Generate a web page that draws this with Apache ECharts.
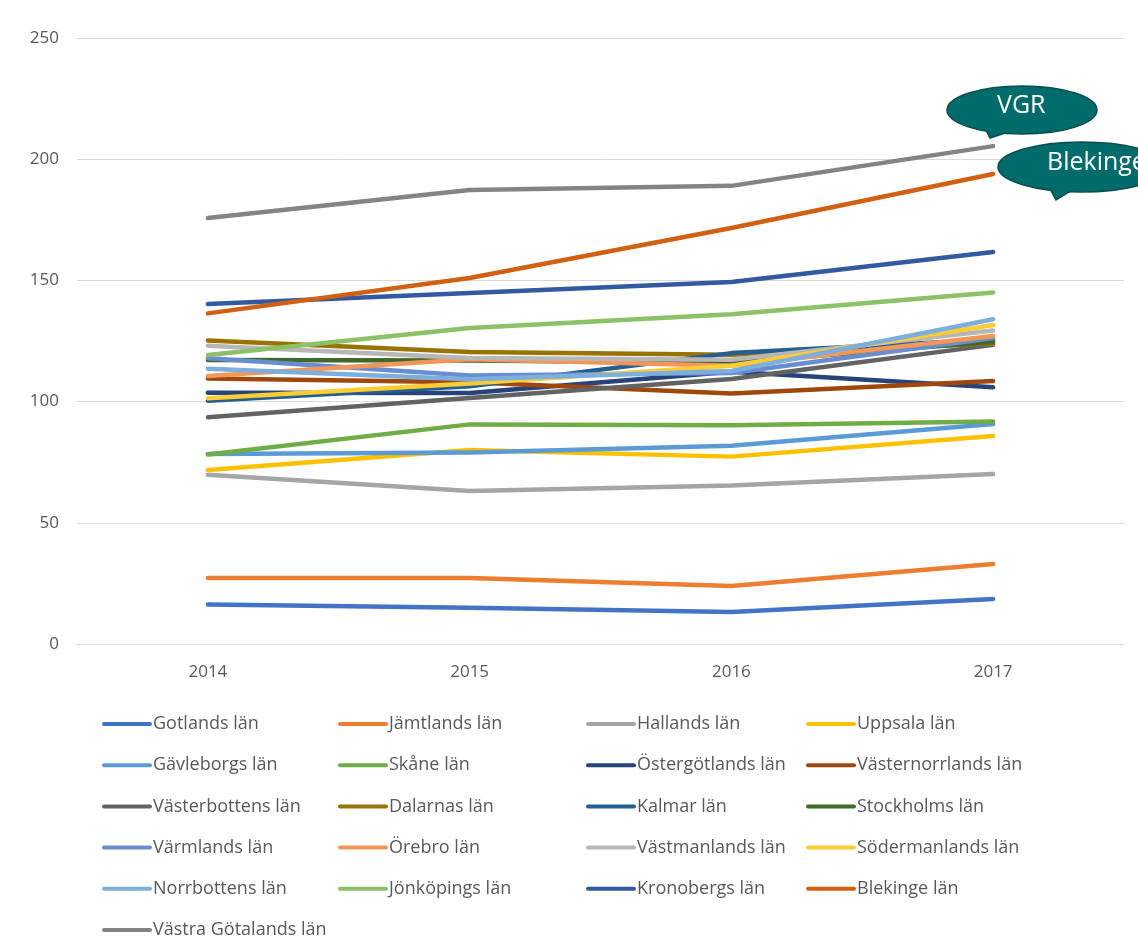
<!DOCTYPE html>
<html>
<head>
<meta charset="utf-8">
<script src="https://cdn.jsdelivr.net/npm/echarts@6/dist/echarts.min.js"></script>
<style>
  html, body { margin: 0; padding: 0; background: #fff; }
  #grafico { width: 1138px; height: 952px; }
</style>
</head>
<body>
<div id="grafico"></div>
<script>
// Kategorier (år)
const ar = ['2014', '2015', '2016', '2017'];

// Län och värden
const lan = [
  'Gotlands län', 'Jämtlands län', 'Hallands län', 'Uppsala län',
  'Gävleborgs län', 'Skåne län', 'Östergötlands län', 'Västernorrlands län',
  'Västerbottens län', 'Dalarnas län', 'Kalmar län', 'Stockholms län',
  'Värmlands län', 'Örebro län', 'Västmanlands län', 'Södermanlands län',
  'Norrbottens län', 'Jönköpings län', 'Kronobergs län', 'Blekinge län',
  'Västra Götalands län'
];

const gotland = [16.3, 15.0, 13.2, 18.6];
const jamtland = [27.2, 27.2, 23.9, 33.0];
const halland = [69.8, 63.1, 65.4, 70.1];
const uppsala = [71.8, 80.0, 77.3, 85.8];
const gavleborg = [78.4, 79.0, 81.8, 90.8];
const skane = [78.2, 90.6, 90.2, 91.8];
const ostergotland = [103.7, 103.5, 112.3, 105.9];
const vasternorrland = [109.5, 108.0, 103.3, 108.5];
const vasterbotten = [93.5, 101.5, 109.3, 123.4];
const dalarna = [125.2, 120.5, 119.3, 124.0];
const kalmar = [100.4, 106.3, 120.0, 125.6];
const stockholm = [117.2, 117.0, 116.0, 124.7];
const varmland = [117.9, 110.8, 111.8, 126.2];
const orebro = [110.6, 117.5, 114.8, 127.1];
const vastmanland = [123.0, 118.0, 117.3, 129.3];
const sodermanland = [101.4, 107.5, 114.8, 131.6];
const norrbotten = [113.6, 109.2, 112.6, 134.0];
const jonkoping = [119.2, 130.4, 136.0, 145.0];
const kronoberg = [140.3, 144.8, 149.3, 161.7];
const blekinge = [136.4, 151.0, 171.6, 193.9];
const vastraGotaland = [175.7, 187.3, 189.0, 205.4];

const varden = [
  gotland, jamtland, halland, uppsala, gavleborg, skane, ostergotland,
  vasternorrland, vasterbotten, dalarna, kalmar, stockholm, varmland,
  orebro, vastmanland, sodermanland, norrbotten, jonkoping, kronoberg,
  blekinge, vastraGotaland
];

const farger = [
  '#4472C4', '#ED7D31', '#A5A5A5', '#FFC000', '#5B9BD5', '#70AD47', '#264478',
  '#9E480E', '#636363', '#997300', '#255E91', '#43682B', '#698ED0', '#F1975A',
  '#B7B7B7', '#FFCD33', '#7CAFDD', '#8CC168', '#335AA1', '#D26012', '#848484'
];

const yTicks = [0, 50, 100, 150, 200, 250];

const grafico = echarts.init(document.getElementById('grafico'));

const textFarg = '#595959';
const fontFamilj = '"Open Sans", "Noto Sans", sans-serif';

// Fyra legendkolumner
const kolumnX = [97, 333, 581, 801];
const legender = kolumnX.map((x, k) => ({
  orient: 'vertical',
  left: x,
  top: 710,
  height: 260,
  itemWidth: 50,
  itemHeight: 14,
  itemGap: 23.2,
  icon: 'path://M2,5 L48,5 A2,2 0 0 1 48,9 L2,9 A2,2 0 0 1 2,5 Z',
  textStyle: { fontSize: 18, color: textFarg, fontFamily: fontFamilj, padding: [0, 0, 0, -4] },
  data: lan.filter((_, i) => i % 4 === k)
}));

// Pratbubblor
function bubbla(cx, cy, rx, ry, svans, text, textX) {
  return [
    {
      type: 'polygon', z: 100,
      shape: { points: svans },
      style: { fill: '#006B6B', stroke: '#0C4E4E', lineWidth: 1.5 }
    },
    {
      type: 'ellipse', z: 101,
      shape: { cx: cx, cy: cy, rx: rx, ry: ry },
      style: { fill: '#006B6B', stroke: '#0C4E4E', lineWidth: 1.5 }
    },
    {
      type: 'polygon', z: 102,
      shape: { points: svans.map((p, i) => i === 2 ? [p[0] + 1.5, p[1] - 3] : p) },
      style: { fill: '#006B6B' }
    },
    {
      type: 'text', z: 103,
      left: textX, top: cy - 17,
      style: { text: text, fill: '#fff', fontSize: 25, fontFamily: fontFamilj }
    }
  ];
}

const option = {
  animation: false,
  backgroundColor: '#fff',
  color: farger,
  grid: { left: 77, right: 14, top: 38, bottom: 308 },
  legend: legender,
  xAxis: {
    type: 'category',
    data: ar,
    boundaryGap: true,
    axisLine: { lineStyle: { color: '#D9D9D9', width: 1 } },
    axisTick: { show: false },
    axisLabel: { color: textFarg, fontSize: 17, margin: 20, fontFamily: fontFamilj }
  },
  yAxis: {
    type: 'value',
    min: yTicks[0],
    max: yTicks[yTicks.length - 1],
    interval: 50,
    axisLine: { show: false },
    axisTick: { show: false },
    splitLine: { lineStyle: { color: '#D9D9D9', width: 1 } },
    axisLabel: { color: textFarg, fontSize: 17, margin: 18, fontFamily: fontFamilj }
  },
  series: lan.map((namn, i) => ({
    name: namn,
    type: 'line',
    data: varden[i],
    showSymbol: false,
    symbol: 'none',
    lineStyle: { width: 4.5, color: farger[i], cap: 'round', join: 'round' },
    itemStyle: { color: farger[i] }
  })),
  graphic: [
    ...bubbla(1022, 110, 75, 24, [[984, 126], [1008, 132], [990, 138]], 'VGR', 997),
    ...bubbla(1082, 167, 84, 25, [[1048, 185], [1072, 190], [1056, 200]], 'Blekinge', 1047)
  ]
};

grafico.setOption(option);
</script>
</body>
</html>
